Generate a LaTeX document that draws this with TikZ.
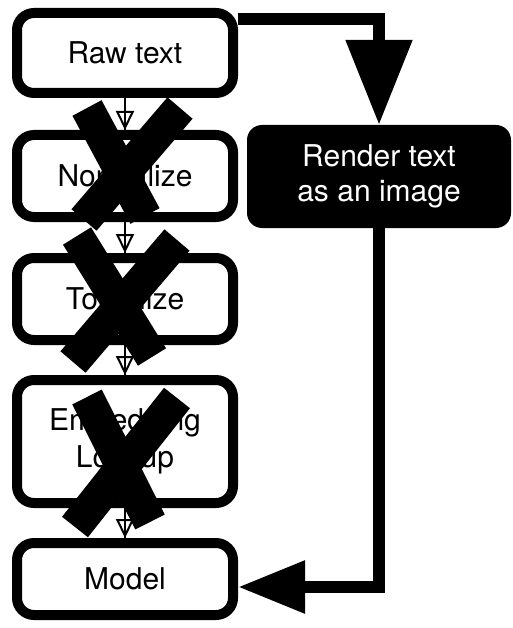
\documentclass[tikz,border=0pt]{standalone}
\usepackage{fontspec}
\setmainfont{TeX Gyre Heros}
\usetikzlibrary{arrows.meta,calc}
\begin{document}
\begin{tikzpicture}[x=1pt,y=-1pt,
  stepbox/.style={draw=black, line width=10pt, rounded corners=17pt, fill=white,
    minimum width=216pt, inner sep=0pt, align=center,
    font=\fontsize{30}{37}\selectfont},
  darkbox/.style={fill=black, text=white, rounded corners=15pt,
    minimum width=264pt, minimum height=103pt, inner sep=0pt, align=center,
    font=\fontsize{30}{35}\selectfont},
  thinshaft/.style={line width=2pt},
  thinarrow/.style={line width=2pt, -{Triangle[open,length=19pt,width=18pt]}},
  bigline/.style={line width=12pt},
  xstroke/.style={line width=33pt, line cap=butt}]
\useasboundingbox (0,0) rectangle (512,628);
% boxes
\node[stepbox, minimum height=80pt] (raw) at (125,53) {Raw text};
\node[stepbox, minimum height=82pt] (norm) at (125,176) {Normalize};
\node[stepbox, minimum height=82pt] (tok) at (125,299) {Tokenize};
\node[stepbox, minimum height=123pt] (emb) at (125,441.5) {Embedding\\Lookup};
\node[stepbox, minimum height=72pt] (model) at (125,579) {Model};
\node[darkbox] (render) at (379,176.5) {Render text\\as an image};
% thin arrows
\foreach \a/\b in {raw/norm, norm/tok, tok/emb, emb/model}{
  \draw[thinshaft] (\a.south) -- (\b.north);
  \draw[thinarrow] (\a.south) -- (\b.north);
}
% big connectors
\coordinate (rawout) at ($(raw.north east)+(0,11)$);
\draw[bigline, -{Triangle[length=85pt,width=64pt]}] (rawout) -| (render.north);
\coordinate (modelin) at ($(model.east)+(0,8)$);
\draw[bigline, -{Triangle[length=67pt,width=50pt]}] (render.south) |- (modelin);
% crosses
\coordinate (x1a) at (87,108);  \coordinate (x1b) at (145,216);
\coordinate (x1c) at (180,108); \coordinate (x1d) at (84,220);
\coordinate (x2a) at (77,236);  \coordinate (x2b) at (152,357);
\coordinate (x2c) at (177,240); \coordinate (x2d) at (73,362);
\coordinate (x3a) at (87,397);  \coordinate (x3b) at (150,522);
\coordinate (x3c) at (177,398); \coordinate (x3d) at (75,527);
\draw[xstroke] (x1a) -- (x1b);
\draw[xstroke] (x1c) -- (x1d);
\draw[xstroke] (x2a) -- (x2b);
\draw[xstroke] (x2c) -- (x2d);
\draw[xstroke] (x3a) -- (x3b);
\draw[xstroke] (x3c) -- (x3d);
\end{tikzpicture}
\end{document}
